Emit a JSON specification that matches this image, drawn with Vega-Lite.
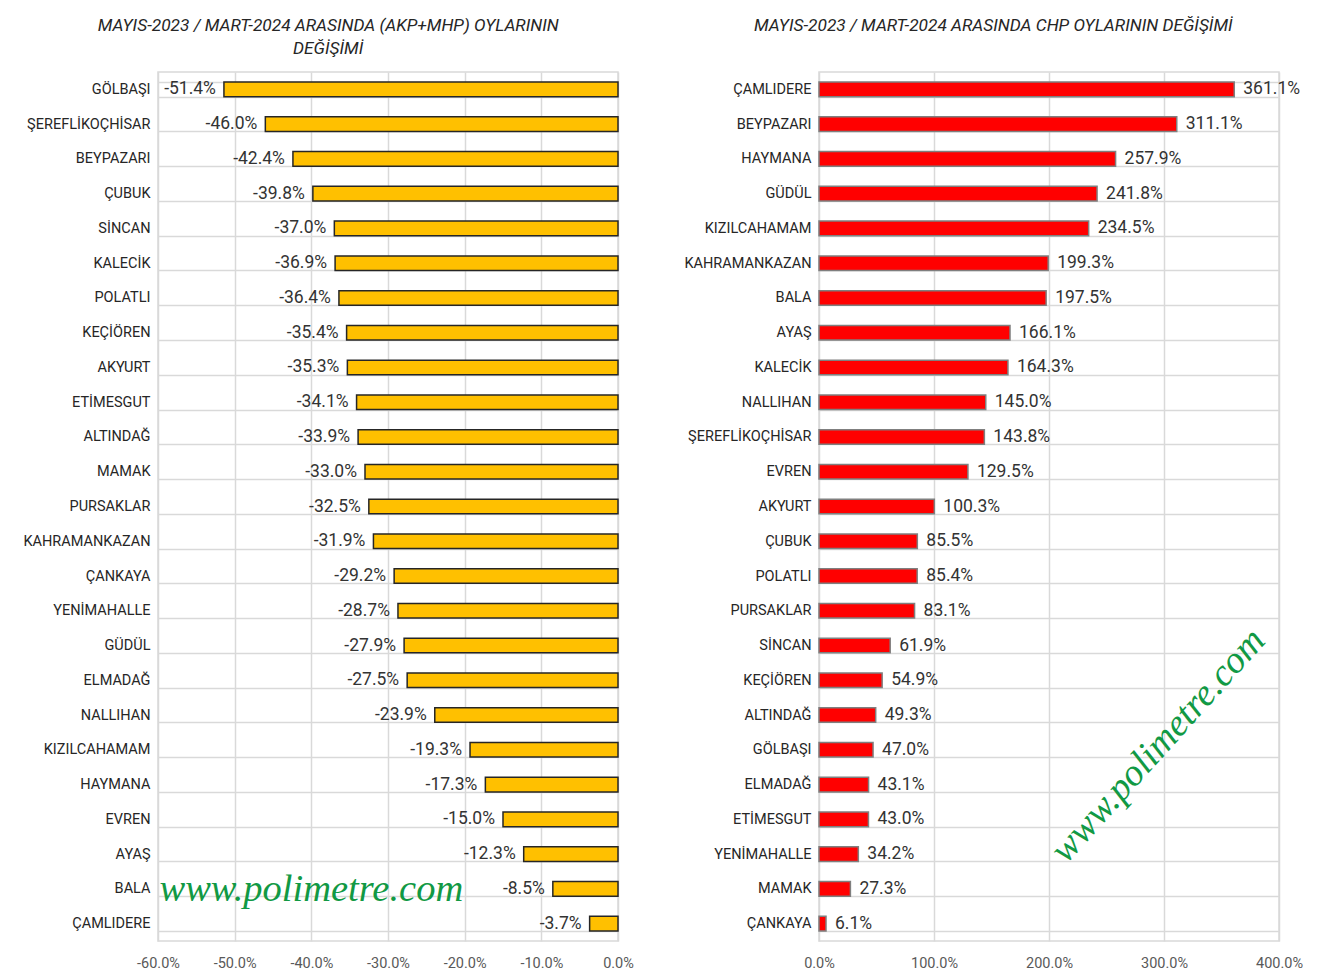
{
  "$schema": "https://vega.github.io/schema/vega-lite/v6.json",
  "background": "white",
  "padding": {"left": 22, "top": 15, "right": 26, "bottom": 5},
  "spacing": 48,
  "config": {
    "locale": {"number": {"decimal": ".", "thousands": ",", "grouping": [3], "currency": ["$", ""], "minus": "-"}},
    "font": "Roboto",
    "view": {"stroke": "#d9d9d9", "strokeWidth": 1.5},
    "axis": {"domain": false, "ticks": false, "gridColor": "#d9d9d9", "gridWidth": 1.5, "labelFont": "Roboto"},
    "axisX": {"labelColor": "#595959", "labelFontSize": 14.5, "labelPadding": 15, "labelFlush": false, "grid": true},
    "axisY": {"labelColor": "#262626", "labelFontSize": 14.5, "labelPadding": 8, "tickBand": "extent", "grid": true, "minExtent": 134, "maxExtent": 134},
    "title": {"font": "Roboto", "fontStyle": "italic", "fontWeight": "normal", "fontSize": 17.3, "color": "#262626", "lineHeight": 23, "frame": "bounds", "anchor": "middle"}
  },
  "datasets": {
    "akp": [
      {"ilce": "GÖLBAŞI", "deg": -0.514},
      {"ilce": "ŞEREFLİKOÇHİSAR", "deg": -0.460},
      {"ilce": "BEYPAZARI", "deg": -0.424},
      {"ilce": "ÇUBUK", "deg": -0.398},
      {"ilce": "SİNCAN", "deg": -0.370},
      {"ilce": "KALECİK", "deg": -0.369},
      {"ilce": "POLATLI", "deg": -0.364},
      {"ilce": "KEÇİÖREN", "deg": -0.354},
      {"ilce": "AKYURT", "deg": -0.353},
      {"ilce": "ETİMESGUT", "deg": -0.341},
      {"ilce": "ALTINDAĞ", "deg": -0.339},
      {"ilce": "MAMAK", "deg": -0.330},
      {"ilce": "PURSAKLAR", "deg": -0.325},
      {"ilce": "KAHRAMANKAZAN", "deg": -0.319},
      {"ilce": "ÇANKAYA", "deg": -0.292},
      {"ilce": "YENİMAHALLE", "deg": -0.287},
      {"ilce": "GÜDÜL", "deg": -0.279},
      {"ilce": "ELMADAĞ", "deg": -0.275},
      {"ilce": "NALLIHAN", "deg": -0.239},
      {"ilce": "KIZILCAHAMAM", "deg": -0.193},
      {"ilce": "HAYMANA", "deg": -0.173},
      {"ilce": "EVREN", "deg": -0.150},
      {"ilce": "AYAŞ", "deg": -0.123},
      {"ilce": "BALA", "deg": -0.085},
      {"ilce": "ÇAMLIDERE", "deg": -0.037}
    ],
    "chp": [
      {"ilce": "ÇAMLIDERE", "deg": 3.611},
      {"ilce": "BEYPAZARI", "deg": 3.111},
      {"ilce": "HAYMANA", "deg": 2.579},
      {"ilce": "GÜDÜL", "deg": 2.418},
      {"ilce": "KIZILCAHAMAM", "deg": 2.345},
      {"ilce": "KAHRAMANKAZAN", "deg": 1.993},
      {"ilce": "BALA", "deg": 1.975},
      {"ilce": "AYAŞ", "deg": 1.661},
      {"ilce": "KALECİK", "deg": 1.643},
      {"ilce": "NALLIHAN", "deg": 1.450},
      {"ilce": "ŞEREFLİKOÇHİSAR", "deg": 1.438},
      {"ilce": "EVREN", "deg": 1.295},
      {"ilce": "AKYURT", "deg": 1.003},
      {"ilce": "ÇUBUK", "deg": 0.855},
      {"ilce": "POLATLI", "deg": 0.854},
      {"ilce": "PURSAKLAR", "deg": 0.831},
      {"ilce": "SİNCAN", "deg": 0.619},
      {"ilce": "KEÇİÖREN", "deg": 0.549},
      {"ilce": "ALTINDAĞ", "deg": 0.493},
      {"ilce": "GÖLBAŞI", "deg": 0.470},
      {"ilce": "ELMADAĞ", "deg": 0.431},
      {"ilce": "ETİMESGUT", "deg": 0.430},
      {"ilce": "YENİMAHALLE", "deg": 0.342},
      {"ilce": "MAMAK", "deg": 0.273},
      {"ilce": "ÇANKAYA", "deg": 0.061}
    ]
  },
  "hconcat": [
    {
      "title": {"text": ["MAYIS-2023 / MART-2024 ARASINDA (AKP+MHP) OYLARININ", "DEĞİŞİMİ"], "offset": 7},
      "width": 460,
      "height": 869,
      "data": {"name": "akp"},
      "encoding": {
        "y": {"field": "ilce", "type": "nominal", "title": null,
          "scale": {"domain": ["GÖLBAŞI", "ŞEREFLİKOÇHİSAR", "BEYPAZARI", "ÇUBUK", "SİNCAN", "KALECİK", "POLATLI", "KEÇİÖREN", "AKYURT", "ETİMESGUT", "ALTINDAĞ", "MAMAK", "PURSAKLAR", "KAHRAMANKAZAN", "ÇANKAYA", "YENİMAHALLE", "GÜDÜL", "ELMADAĞ", "NALLIHAN", "KIZILCAHAMAM", "HAYMANA", "EVREN", "AYAŞ", "BALA", "ÇAMLIDERE"], "paddingInner": 0.58, "paddingOuter": 0.29}}
      },
      "layer": [
        {
          "mark": {"type": "bar", "color": "#FFC000", "stroke": "#262626", "strokeWidth": 1.5},
          "encoding": {
            "x": {"field": "deg", "type": "quantitative", "title": null,
              "scale": {"domain": [-0.6, 0], "nice": false},
              "axis": {"format": ".1%", "values": [-0.6, -0.5, -0.4, -0.3, -0.2, -0.1, 0]}}
          }
        },
        {
          "mark": {"type": "text", "align": "right", "baseline": "middle", "dx": -8, "fontSize": 17.5, "color": "#333333"},
          "encoding": {
            "x": {"field": "deg", "type": "quantitative"},
            "text": {"field": "deg", "type": "quantitative", "format": ".1%"}
          }
        },
        {
          "data": {"values": [{}]},
          "mark": {"type": "text", "text": "www.polimetre.com", "font": "Liberation Serif", "fontStyle": "italic", "fontSize": 38.5, "color": "#119944", "align": "center", "baseline": "middle"},
          "encoding": {
            "x": {"datum": -0.4, "type": "quantitative"},
            "y": {"datum": "BALA", "type": "nominal"}
          }
        }
      ]
    },
    {
      "title": {"text": "MAYIS-2023 / MART-2024 ARASINDA CHP OYLARININ DEĞİŞİMİ", "offset": 30},
      "width": 460,
      "height": 869,
      "data": {"name": "chp"},
      "encoding": {
        "y": {"field": "ilce", "type": "nominal", "title": null,
          "scale": {"domain": ["ÇAMLIDERE", "BEYPAZARI", "HAYMANA", "GÜDÜL", "KIZILCAHAMAM", "KAHRAMANKAZAN", "BALA", "AYAŞ", "KALECİK", "NALLIHAN", "ŞEREFLİKOÇHİSAR", "EVREN", "AKYURT", "ÇUBUK", "POLATLI", "PURSAKLAR", "SİNCAN", "KEÇİÖREN", "ALTINDAĞ", "GÖLBAŞI", "ELMADAĞ", "ETİMESGUT", "YENİMAHALLE", "MAMAK", "ÇANKAYA"], "paddingInner": 0.58, "paddingOuter": 0.29}}
      },
      "layer": [
        {
          "mark": {"type": "bar", "color": "#FF0000", "stroke": "#7f7f7f", "strokeWidth": 1.5},
          "encoding": {
            "x": {"field": "deg", "type": "quantitative", "title": null,
              "scale": {"domain": [0, 4], "nice": false},
              "axis": {"format": ".1%", "values": [0, 1, 2, 3, 4]}}
          }
        },
        {
          "mark": {"type": "text", "align": "left", "baseline": "middle", "dx": 9, "fontSize": 17.5, "color": "#333333"},
          "encoding": {
            "x": {"field": "deg", "type": "quantitative"},
            "text": {"field": "deg", "type": "quantitative", "format": ".1%"}
          }
        },
        {
          "data": {"values": [{}]},
          "mark": {"type": "text", "text": "www.polimetre.com", "font": "Liberation Serif", "fontStyle": "italic", "fontSize": 38, "color": "#119944", "align": "center", "baseline": "middle", "angle": -48, "dy": -6},
          "encoding": {
            "x": {"datum": 2.99, "type": "quantitative"},
            "y": {"datum": "GÖLBAŞI", "type": "nominal"}
          }
        }
      ]
    }
  ]
}
